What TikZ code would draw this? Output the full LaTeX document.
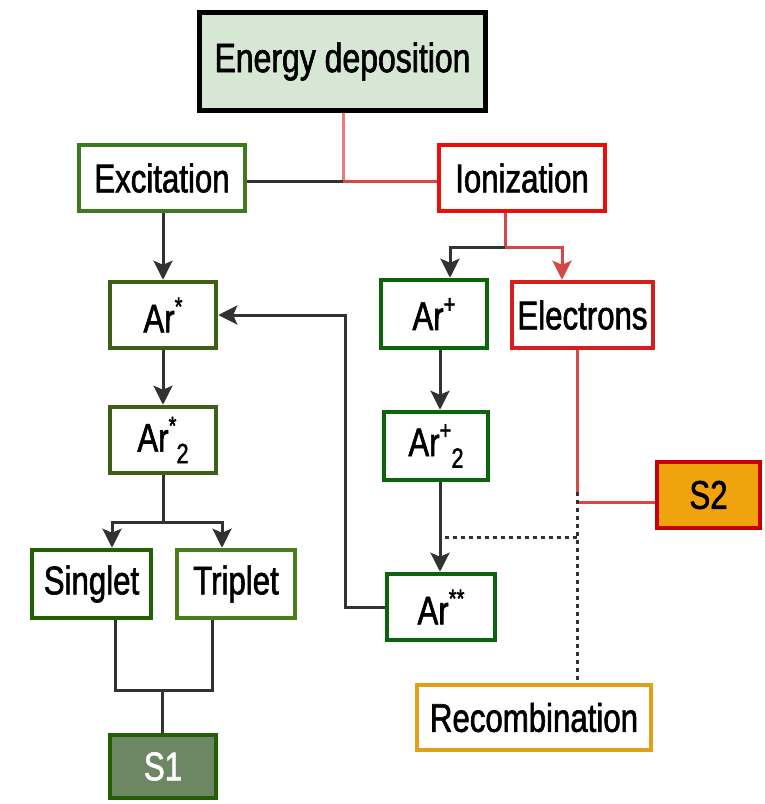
\documentclass[tikz,border=0pt]{standalone}
\usepackage{fontspec}
\setmainfont{Liberation Sans}[FakeStretch=0.78,FakeBold=1.5]
\usetikzlibrary{arrows.meta}
\definecolor{edfill}{RGB}{214,232,212}
\definecolor{grnA}{RGB}{62,120,32}
\definecolor{grnB}{RGB}{62,96,22}
\definecolor{grnC}{RGB}{10,100,10}
\definecolor{grnS}{RGB}{34,96,4}
\definecolor{grnT}{RGB}{74,124,24}
\definecolor{sonefill}{RGB}{109,135,100}
\definecolor{redA}{RGB}{240,10,10}
\definecolor{redB}{RGB}{214,30,30}
\definecolor{redC}{RGB}{200,0,0}
\definecolor{stwofill}{RGB}{240,163,12}
\definecolor{recol}{RGB}{226,160,24}
\definecolor{lineg}{RGB}{50,50,50}
\definecolor{redl}{RGB}{214,72,72}
\definecolor{pinkl}{RGB}{240,120,120}
\newcommand\mysup[1]{\raisebox{0.8ex}{\fontsize{26}{26}\selectfont #1}}
\newcommand\mysub[1]{\raisebox{-0.55ex}{\fontsize{28}{28}\selectfont #1}}
\begin{document}
\begin{tikzpicture}[x=1pt,y=-1pt,
  box/.style={draw, line width=4.5pt, fill=white, inner sep=0pt,
    font=\fontsize{40}{44}\selectfont, text=black},
  conn/.style={line width=3pt, draw=lineg},
  tipb/.style={-{Stealth[length=19pt,width=19pt,inset=4pt]}},
  arr/.style={conn, tipb},
  dotline/.style={line width=3pt, draw=lineg, dash pattern=on 4pt off 4pt}]
\useasboundingbox (0,0) rectangle (764,804);

% nodes
\node[box, draw=black, line width=5pt, fill=edfill, minimum width=286pt, minimum height=98pt,
  font=\fontsize{41}{44}\selectfont] (energy) at (342.5,61.5) {Energy deposition};
\node[box, draw=grnA, minimum width=166pt, minimum height=66pt] (exc) at (162,178) {Excitation};
\node[box, draw=redA, minimum width=166pt, minimum height=66pt] (ion) at (522,178) {Ionization};
\node[box, draw=grnB, minimum width=106pt, minimum height=66pt] (ars) at (163,315) {Ar\mysup{*}};
\node[box, draw=grnB, minimum width=106pt, minimum height=66pt] (ars2) at (163,440) {Ar\mysup{*}\mysub{2}};
\node[box, draw=grnC, minimum width=106pt, minimum height=68pt] (arp) at (434,314) {Ar\mysup{+}};
\node[box, draw=redB, minimum width=141pt, minimum height=66pt] (elec) at (582.5,315) {Electrons};
\node[box, draw=grnC, minimum width=104pt, minimum height=68pt] (arp2) at (436,446) {Ar\mysup{+}\mysub{2}};
\node[box, draw=grnC, minimum width=108pt, minimum height=66pt] (arss) at (441,607) {Ar\mysup{**}};
\node[box, draw=grnS, minimum width=119pt, minimum height=68pt] (sing) at (91.5,584) {Singlet};
\node[box, draw=grnT, minimum width=118pt, minimum height=68pt] (trip) at (236,584) {Triplet};
\node[box, draw=grnS, fill=sonefill, text=white, minimum width=106pt, minimum height=63pt] (sone) at (163,766.5) {S1};
\node[box, draw=redC, fill=stwofill, minimum width=103pt, minimum height=66pt] (stwo) at (708.5,495) {S2};
\node[box, draw=recol, minimum width=234pt, minimum height=65pt] (rec) at (534,717.5) {Recombination};

% junction coordinates
\coordinate (j1) at (343,181);
\coordinate (j2) at (505,247);
\coordinate (a1) at (450,247);
\coordinate (a2) at (562,247);
\coordinate (a3) at (440,0);
\coordinate (b1) at (345,607);
\coordinate (s0) at (163,522);
\coordinate (xs1) at (112,522);
\coordinate (xs2) at (222,522);
\coordinate (m1) at (115,690);
\coordinate (m2) at (212,690);
\coordinate (m0) at (162,690);
\coordinate (e0) at (577,492);
\coordinate (e1) at (577,502);
\coordinate (d1) at (577,537);

% top connectors
\draw[conn, draw=pinkl] (energy.south -| j1) -- (j1);
\draw[conn] (exc.east |- j1) -- (j1);
\draw[conn, draw=redl] (j1) -- (ion.west |- j1);

% ionization split
\draw[conn, draw=redl] (ion.south -| j2) -- (j2);
\draw[arr] (j2) -- (a1) -- (arp.north -| a1);
\draw[conn, draw=redl, tipb] (j2) -- (a2) -- (elec.north -| a2);

% excitation chain
\draw[arr] (exc.south -| ars.north) -- (ars.north);
\draw[arr] (ars.south) -- (ars2.north);
\draw[conn] (ars2.south) -- (s0);
\draw[arr] (s0) -- (xs1) -- (sing.north -| xs1);
\draw[arr] (s0) -- (xs2) -- (trip.north -| xs2);
\draw[conn] (sing.south -| m1) -- (m1) -- (m2) -- (trip.south -| m2);
\draw[conn] (m0) -- (sone.north -| m0);

% ion chain
\draw[arr] (arp.south -| a3) -- (arp2.north -| a3);
\draw[arr] (arp2.south -| a3) -- (arss.north -| a3);
\draw[arr] (arss.west) -- (arss.west -| b1) -- (b1 |- ars.east) -- (ars.east);

% electrons
\draw[conn, draw=redl] (elec.south -| e0) -- (e0);
\draw[conn, draw=redl] (e1) -- (e1 -| stwo.west);
\draw[dotline] (e0) -- (rec.north -| e0);
\draw[dotline] (d1) -- (d1 -| a3);
\end{tikzpicture}
\end{document}
